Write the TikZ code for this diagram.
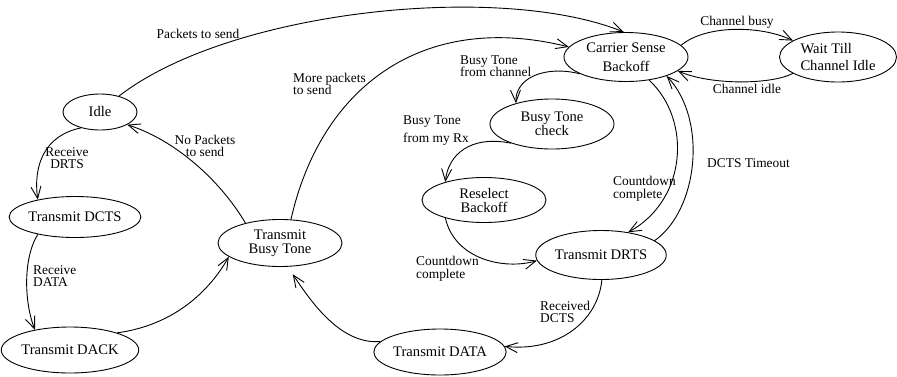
\documentclass[tikz,border=0pt]{standalone}
\usepackage{fontspec}
\setmainfont{Liberation Serif}
\usetikzlibrary{shapes.geometric,arrows.meta}
\newcommand{\nodefnt}{\fontsize{14.6}{14}\selectfont}
\newcommand{\labfnt}{\fontsize{13.4}{12.6}\selectfont}
\tikzset{
  st/.style={ellipse, draw, line width=0.9pt, inner sep=0pt, minimum width=124pt, minimum height=47pt, font=\nodefnt, align=center},
  lab/.style={inner sep=0pt, font=\labfnt},
  edge/.style={line width=0.9pt, -{Straight Barb[length=12pt,width=10pt,line width=0.9pt]}},
}
\begin{document}
\begin{tikzpicture}[x=1pt,y=-1pt]
\useasboundingbox (0,0) rectangle (897,376);
% states
\node[st, minimum width=74pt, minimum height=36pt] (idle) at (100,112) {Idle};
\node[st, minimum width=125pt, minimum height=41pt] (dcts) at (75,217) {Transmit DCTS};
\node[st, minimum width=126pt, minimum height=46pt] (dack) at (70,350) {Transmit DACK};
\node[st] (tbt) at (280,243) {Transmit\\Busy Tone};
\node[st, minimum height=46pt] (data) at (440,352) {Transmit DATA};
\node[st, minimum height=49pt] (drts) at (601,255) {Transmit DRTS};
\node[st, minimum height=45pt] (rb) at (484,200) {Reselect\\Backoff};
\node[st, minimum height=50pt] (btc) at (552,124) {Busy Tone\\check};
\node[st, minimum height=49pt] (csb) at (626,57) {Carrier Sense\\[5pt]Backoff};
\node[st, minimum width=117pt, minimum height=50pt, align=left] (wait) at (838,57) {Wait Till\\[3pt]Channel Idle};
% transitions
\draw[edge] (idle.40) .. controls (230,10) and (500,-18) .. (csb.95);
\draw[edge] (csb.12) .. controls (705,25) and (760,25) .. (wait.160);
\draw[edge] (wait.200) .. controls (770,85) and (710,85) .. (csb.-15);
\draw[edge] (csb.200) .. controls (545,65) and (515,78) .. (btc.150);
\draw[edge] (tbt.65) .. controls (320,90) and (420,10) .. (csb.170);
\draw[edge] (tbt.150) .. controls (220,180) and (175,140) .. (idle.-25);
\draw[edge] (idle.-140) .. controls (45,135) and (33,165) .. (dcts.155);
\draw[edge] (dcts.-155) .. controls (22,260) and (25,305) .. (dack.150);
\draw[edge] (dack.20) .. controls (175,325) and (210,290) .. (tbt.-165);
\draw[edge, shorten >=9pt] (data.170) .. controls (340,345) and (310,300) .. (tbt.-72);
\draw[edge] (drts.-88) .. controls (598,320) and (560,352) .. (data.5);
\draw[edge] (rb.-155) .. controls (455,260) and (505,270) .. (drts.185);
\draw[edge] (btc.-155) .. controls (470,135) and (448,155) .. (rb.155);
\draw[edge] (csb.-45) .. controls (692,120) and (687,200) .. (drts.40);
\draw[edge] (drts.15) .. controls (698,210) and (708,120) .. (csb.-25);
% labels
\node[lab] (l1) at (198,34) {Packets to send};
\node[lab] (l2) at (737,22) {Channel busy};
\node[lab] (l3) at (747,89) {Channel idle};
\node[lab, align=left, anchor=west] (l4) at (460,66) {Busy Tone\\from channel};
\node[lab, align=left, anchor=west] (l5) at (293,84) {More packets\\to send};
\node[lab, align=center] (l6) at (205,146) {No Packets\\to send};
\node[lab, align=center] (l7) at (67,158) {Receive\\DRTS};
\node[lab, align=left, anchor=west] (l8) at (33,276) {Receive\\DATA};
\node[lab, align=left, anchor=west] (l9) at (540,312) {Received\\DCTS};
\node[lab, align=left, anchor=west] (l10) at (416,269) {Countdown\\complete};
\node[lab, align=left, anchor=west] (l11) at (403,130.5) {Busy Tone\\[6pt]from my Rx};
\node[lab, align=left, anchor=west] (l12) at (613,189) {Countdown\\complete};
\node[lab, anchor=west] (l13) at (707,163) {DCTS Timeout};
\end{tikzpicture}
\end{document}
